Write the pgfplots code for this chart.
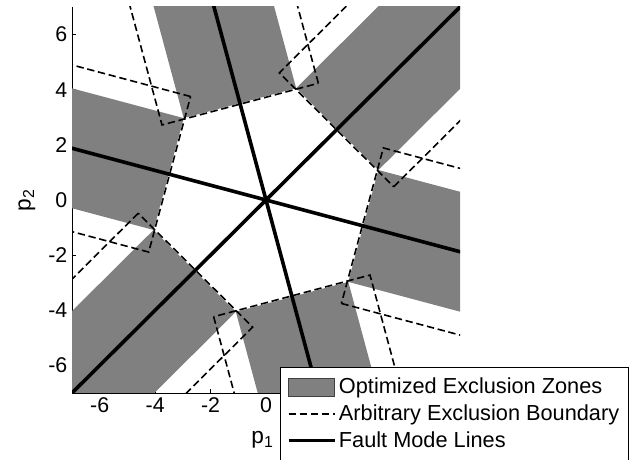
\documentclass[border=0pt]{standalone}
\usepackage{fontspec}
\setmainfont{Liberation Sans}
\usepackage{pgfplots}
\pgfplotsset{compat=1.18}
\definecolor{zone}{RGB}{128,128,128}
\pgfplotsset{
  zoneleg/.style={legend image code/.code={\draw[##1, draw=black!75, line width=0.5pt] (0pt,-6.75pt) rectangle (34.5pt,6.75pt);}},
  lineleg/.style={legend image code/.code={\draw[##1] (0pt,0pt) -- (34.5pt,0pt);}},
}
\begin{document}
\begin{tikzpicture}
\begin{axis}[
  name=ax,
  width=291pt, height=289.5pt, scale only axis,
  xmin=-7, xmax=7, ymin=-7, ymax=7,
  axis x line*=bottom, axis y line*=left,
  axis line style={black, line width=0.5pt},
  xtick={-6,-4,...,6}, ytick={-6,-4,...,6},
  tick align=inside, major tick length=3pt,
  tick style={black, line width=0.5pt},
  /pgf/number format/assume math mode=true,
  ticklabel style={font=\fontsize{16}{18}\selectfont},
  xlabel={p\textsubscript{1}}, ylabel={p\textsubscript{2}},
  label style={font=\fontsize{17}{20}\selectfont},
  x label style={at={(axis description cs:0.491,-0.122)}, anchor=center},
  y label style={at={(axis description cs:-0.116,0.5)}, anchor=center},
  no markers,
  legend cell align=left,
  legend style={at={(axis description cs:0.536,0.0674)}, anchor=north west,
    font=\fontsize{16.3}{19}\selectfont, draw=black, line width=0.6pt,
    inner xsep=4.75pt, inner ysep=5.5pt, row sep=1.6pt,
    nodes={inner xsep=2pt, inner ysep=2.6pt}},
]
% Optimized exclusion zones (gray bands)
\addplot[fill=zone, draw=none, zoneleg]
  coordinates {(4.0569,1.0870) (11.3844,8.4146) (8.4146,11.3844) (1.0870,4.0569)} -- cycle;
\addlegendentry{Optimized Exclusion Zones}
\addplot[fill=zone, draw=none, forget plot]
  coordinates {(1.0870,4.0569) (-1.5950,14.0665) (-5.6520,12.9795) (-2.9698,2.9698)} -- cycle;
\addplot[fill=zone, draw=none, forget plot]
  coordinates {(-2.9698,2.9698) (-12.9795,5.6520) (-14.0665,1.5950) (-4.0569,-1.0870)} -- cycle;
\addplot[fill=zone, draw=none, forget plot]
  coordinates {(-4.0569,-1.0870) (-11.3844,-8.4146) (-8.4146,-11.3844) (-1.0870,-4.0569)} -- cycle;
\addplot[fill=zone, draw=none, forget plot]
  coordinates {(-1.0870,-4.0569) (1.5950,-14.0665) (5.6520,-12.9795) (2.9698,-2.9698)} -- cycle;
\addplot[fill=zone, draw=none, forget plot]
  coordinates {(2.9698,-2.9698) (12.9795,-5.6520) (14.0665,-1.5950) (4.0569,1.0870)} -- cycle;
% Arbitrary exclusion boundaries (dashed rectangles)
\addplot[black, line width=1.2pt, dash pattern=on 5.5pt off 2.8pt, lineleg]
  coordinates {(4.6104,0.4808) (11.9643,7.8347) (7.8347,11.9643) (0.4808,4.6104) (4.6104,0.4808)};
\addlegendentry{Arbitrary Exclusion Boundary}
\addplot[black, line width=1.2pt, dash pattern=on 5.5pt off 2.8pt, forget plot]
  coordinates {(1.8887,4.2331) (-0.8030,14.2788) (-6.4440,12.7672) (-3.7523,2.7215) (1.8887,4.2331)};
\addplot[black, line width=1.2pt, dash pattern=on 5.5pt off 2.8pt, forget plot]
  coordinates {(-2.7215,3.7523) (-12.7672,6.4440) (-14.2788,0.8030) (-4.2331,-1.8887) (-2.7215,3.7523)};
\addplot[black, line width=1.2pt, dash pattern=on 5.5pt off 2.8pt, forget plot]
  coordinates {(-4.6104,-0.4808) (-11.9643,-7.8347) (-7.8347,-11.9643) (-0.4808,-4.6104) (-4.6104,-0.4808)};
\addplot[black, line width=1.2pt, dash pattern=on 5.5pt off 2.8pt, forget plot]
  coordinates {(-1.8887,-4.2331) (0.8030,-14.2788) (6.4440,-12.7672) (3.7523,-2.7215) (-1.8887,-4.2331)};
\addplot[black, line width=1.2pt, dash pattern=on 5.5pt off 2.8pt, forget plot]
  coordinates {(2.7215,-3.7523) (12.7672,-6.4440) (14.2788,-0.8030) (4.2331,1.8887) (2.7215,-3.7523)};
% Fault mode lines
\addplot[black, line width=2.7pt, lineleg]
  coordinates {(-8,2.1436) (8,-2.1436)};
\addlegendentry{Fault Mode Lines}
\addplot[black, line width=2.7pt, forget plot] coordinates {(-8,-8) (8,8)};
\addplot[black, line width=2.7pt, forget plot] coordinates {(2.1436,-8) (-2.1436,8)};
\end{axis}
\pgfresetboundingbox
\path[use as bounding box] ([xshift=-54pt,yshift=-50.25pt]ax.south west) rectangle ([xshift=423pt,yshift=294.75pt]ax.south west);
\end{tikzpicture}
\end{document}
